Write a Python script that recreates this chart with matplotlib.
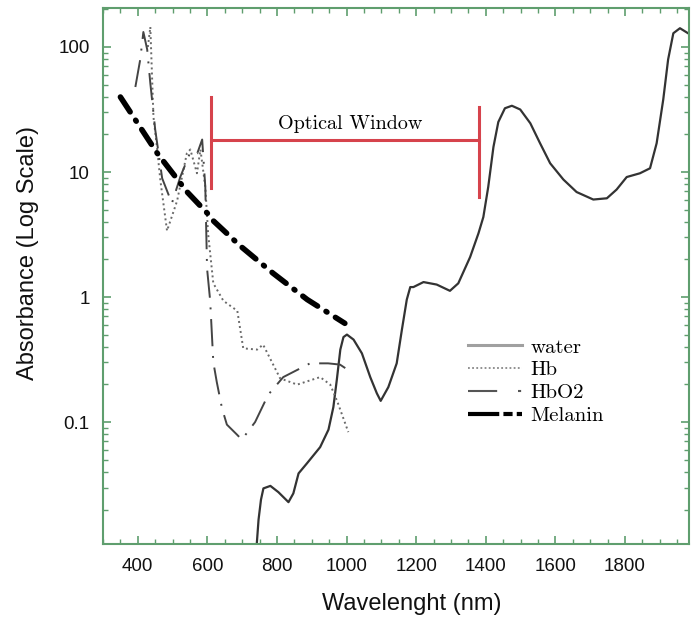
import numpy as np
import matplotlib
matplotlib.use('Agg')
import matplotlib.pyplot as plt
from matplotlib.lines import Line2D
from matplotlib.ticker import FixedLocator, FixedFormatter, LogLocator, NullFormatter, MultipleLocator

plt.rcParams['font.family'] = ['Liberation Sans', 'DejaVu Sans']

# absorption spectra (wavelength in nm, log10 of absorbance)
water_nm = [742, 747, 754, 761, 781, 804, 833, 847, 862, 886, 924, 948, 962,
            972, 982, 991, 1001, 1020, 1044, 1068, 1087, 1098, 1120, 1144,
            1159, 1173, 1183, 1192, 1221, 1259, 1297, 1321, 1355, 1379, 1393,
            1407, 1422, 1436, 1455, 1475, 1499, 1528, 1556, 1585, 1623, 1661,
            1709, 1748, 1776, 1805, 1843, 1872, 1891, 1910, 1924, 1939, 1958,
            1987]
water_log = [-1.97, -1.78, -1.62, -1.53, -1.51, -1.56, -1.64, -1.57, -1.41,
             -1.33, -1.20, -1.06, -0.88, -0.66, -0.42, -0.32, -0.30, -0.34,
             -0.45, -0.64, -0.77, -0.83, -0.72, -0.53, -0.26, -0.02, 0.08,
             0.08, 0.12, 0.10, 0.05, 0.11, 0.32, 0.51, 0.64, 0.88, 1.20, 1.40,
             1.51, 1.53, 1.50, 1.39, 1.23, 1.07, 0.94, 0.84, 0.78, 0.79, 0.86,
             0.96, 0.99, 1.03, 1.23, 1.58, 1.90, 2.11, 2.15, 2.10]

hb_nm = [429, 436, 441, 445, 455, 465, 484, 513, 541, 551, 570, 580, 594,
         602, 617, 646, 686, 703, 743, 760, 809, 858, 924, 953, 974, 1005]
hb_log = [2.00, 2.16, 1.76, 1.44, 1.20, 0.93, 0.53, 0.77, 1.15, 1.18, 0.99,
          1.18, 0.88, 0.51, 0.11, -0.03, -0.11, -0.41, -0.42, -0.38, -0.65,
          -0.70, -0.64, -0.70, -0.84, -1.08]

hbo2_nm = [393, 407, 416, 427, 436, 450, 470, 498, 522, 551, 571, 585, 594,
           599, 608, 617, 627, 642, 656, 685, 699, 737, 775, 818, 895, 947,
           981, 1019]
hbo2_log = [1.68, 1.90, 2.12, 1.98, 1.71, 1.34, 0.95, 0.75, 0.96, 1.16,
            1.15, 1.26, 0.88, 0.23, -0.03, -0.52, -0.68, -0.89, -1.02, -1.10,
            -1.14, -1.00, -0.78, -0.64, -0.53, -0.53, -0.54, -0.61]

melanin_nm = [350, 456, 542, 600, 617, 694, 789, 887, 995]
melanin_log = [1.60, 1.15, 0.84, 0.67, 0.61, 0.41, 0.19, -0.02, -0.21]

window_nm = [610, 1380]
window_level = 18.0
window_left = [7.5, 40.0]
window_right = [6.3, 33.0]

xticks = [400, 600, 800, 1000, 1200, 1400, 1600, 1800]
yticks = [0.1, 1, 10, 100]
ytick_labels = ['0.1', '1', '10', '100']

frame = '#5f9e6e'

fig = plt.figure(figsize=(6.91, 6.20), dpi=100)
ax = fig.add_axes([103 / 691, 1 - 544 / 620, 586 / 691, 536 / 620])
ax.set_yscale('log')

ax.plot(water_nm, 10 ** np.array(water_log), color='#333333', lw=1.6)
ax.plot(hb_nm, 10 ** np.array(hb_log), color='#6a6a6a', lw=1.4,
        linestyle=(0, (1, 1.6)))
ax.plot(hbo2_nm, 10 ** np.array(hbo2_log), color='#444444', lw=1.4,
        dashes=(14, 5, 1, 5))
ax.plot(melanin_nm, 10 ** np.array(melanin_log), color='black', lw=4,
        dashes=(3.2, 1.8, 0.2, 1.8), dash_capstyle='round')

# optical window bracket
red = '#d6434c'
ax.plot(window_nm, [window_level, window_level], color=red, lw=2.2)
ax.plot([window_nm[0]] * 2, window_left, color=red, lw=2.2)
ax.plot([window_nm[1]] * 2, window_right, color=red, lw=2.2)
ax.text(sum(window_nm) / 2 + 14, 24.2, 'Optical Window', family='cmr10',
        fontsize=14.5, ha='center', va='center')

ax.set_xlim(300, 1984)
ax.set_ylim(0.0106, 205)

ax.xaxis.set_major_locator(FixedLocator(xticks))
ax.xaxis.set_minor_locator(MultipleLocator(50))
ax.yaxis.set_major_locator(FixedLocator(yticks))
ax.yaxis.set_major_formatter(FixedFormatter(ytick_labels))
ax.yaxis.set_minor_locator(LogLocator(base=10, subs=np.arange(2, 10)))
ax.yaxis.set_minor_formatter(NullFormatter())
ax.tick_params(which='both', direction='in', top=True, right=True,
               color=frame, labelsize=13.5, labelcolor='#111111')
ax.tick_params(which='major', length=6, width=1.2)
ax.tick_params(which='minor', length=3.5, width=1)
ax.tick_params(axis='x', pad=10)
ax.tick_params(axis='y', pad=9.5)
for s in ax.spines.values():
    s.set_color(frame)
    s.set_linewidth(1.5)

fig.text(412 / 691, 1 - 604 / 620, 'Wavelenght (nm)', fontsize=17,
         ha='center', va='center', color='#111111')
fig.text(28 / 691, 1 - 253 / 620, 'Absorbance (Log Scale)', fontsize=17,
         ha='center', va='center', rotation=90, color='#111111')

handles = [
    Line2D([], [], color='#a0a0a0', lw=2.2),
    Line2D([], [], color='#888888', lw=1.3, linestyle=(0, (1, 1.3))),
    Line2D([], [], color='#555555', lw=1.5, dashes=(14, 10, 1.5, 10)),
    Line2D([], [], color='black', lw=3, dashes=(7.5, 1, 2.2, 1, 2.2, 1)),
]
ax.legend(handles, ['water', 'Hb', 'HbO2', 'Melanin'], frameon=False,
          loc='upper left', bbox_to_anchor=(468 / 691, 1 - 338 / 620),
          bbox_transform=fig.transFigure, borderaxespad=0, borderpad=0,
          handlelength=2.6, handletextpad=0.4, labelspacing=0.2,
          prop={'family': 'cmr10', 'size': 15})

fig.savefig('out.png', dpi=100)
